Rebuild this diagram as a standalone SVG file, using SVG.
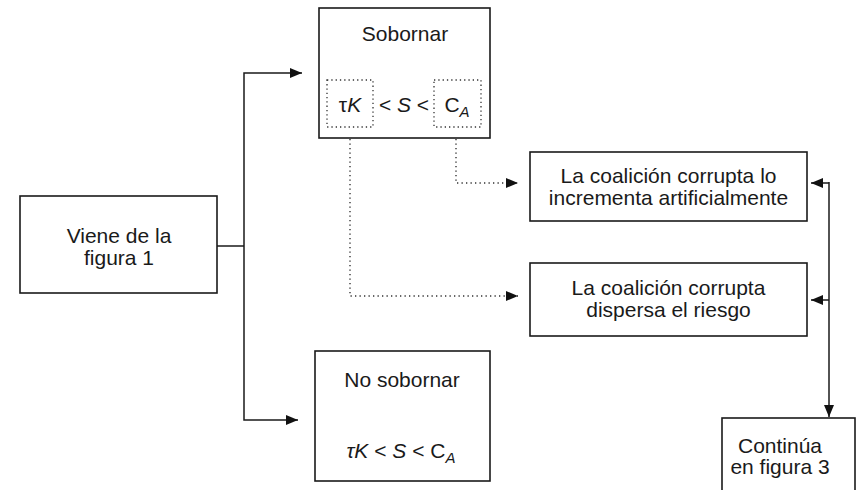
<svg xmlns="http://www.w3.org/2000/svg" width="858" height="490" viewBox="0 0 858 490">
  <style>
    .box { fill: #ffffff; stroke: #1a1a1a; stroke-width: 1.6; }
    .dotbox { fill: none; stroke: #333333; stroke-width: 1.3; stroke-dasharray: 1.3 3; }
    .lbl { font-family: "Liberation Sans", Arial, sans-serif; font-size: 21px; fill: #1a1a1a; text-anchor: middle; }
    .it { font-style: italic; }
    .sub { font-style: italic; font-size: 15px; }
    .solid { fill: none; stroke: #1a1a1a; stroke-width: 1.5; }
    .dotted { fill: none; stroke: #333333; stroke-width: 1.4; stroke-dasharray: 1.3 3.2; }
  </style>
  <defs>
    <marker id="arrow" viewBox="0 0 12 10" refX="12" refY="5" markerWidth="12" markerHeight="10" markerUnits="userSpaceOnUse" orient="auto">
      <path d="M0,0 L12,5 L0,10 z" fill="#111111"/>
    </marker>
  </defs>

  <rect width="858" height="490" fill="#ffffff"/>

  <!-- connectors -->
  <g id="connectors">
    <path class="solid" d="M217,246 H244"/>
    <path class="solid" d="M244,246 V73 H302" marker-end="url(#arrow)"/>
    <path class="solid" d="M244,246 V420 H298" marker-end="url(#arrow)"/>
    <path class="dotted" d="M456,139 V183 H518" marker-end="url(#arrow)"/>
    <path class="dotted" d="M350,139 V296 H518" marker-end="url(#arrow)"/>
    <path class="solid" d="M829,182 V417" marker-end="url(#arrow)"/>
    <path class="solid" d="M829,183 H811" marker-end="url(#arrow)"/>
    <path class="solid" d="M829,300 H811" marker-end="url(#arrow)"/>
  </g>

  <!-- source node -->
  <g id="viene">
    <rect class="box" x="20" y="196" width="197" height="97"/>
    <text class="lbl" x="119" y="243">Viene de la</text>
    <text class="lbl" x="119" y="265">figura 1</text>
  </g>

  <!-- bribe branch -->
  <g id="sobornar">
    <rect class="box" x="319" y="8" width="171" height="130"/>
    <text class="lbl" x="405" y="41">Sobornar</text>
    <rect class="dotbox" x="327" y="80" width="46" height="47"/>
    <rect class="dotbox" x="434" y="80" width="47" height="47"/>
    <text class="lbl" x="350" y="112">τ<tspan class="it">K</tspan></text>
    <text class="lbl" x="404" y="112">&lt; <tspan class="it">S</tspan> &lt;</text>
    <text class="lbl" x="457" y="112">C<tspan class="sub" dy="5">A</tspan></text>
  </g>

  <!-- no-bribe branch -->
  <g id="no-sobornar">
    <rect class="box" x="315" y="351" width="175" height="130"/>
    <text class="lbl" x="402" y="387">No sobornar</text>
    <text class="lbl" x="401" y="458"><tspan class="it">τK</tspan> &lt; <tspan class="it">S</tspan> &lt; C<tspan class="sub" dy="5">A</tspan></text>
  </g>

  <!-- outcomes -->
  <g id="incrementa">
    <rect class="box" x="530" y="152" width="277" height="69"/>
    <text class="lbl" x="668.5" y="183">La coalición corrupta lo</text>
    <text class="lbl" x="668.5" y="205">incrementa artificialmente</text>
  </g>

  <g id="dispersa">
    <rect class="box" x="530" y="263" width="277" height="73"/>
    <text class="lbl" x="668.5" y="295">La coalición corrupta</text>
    <text class="lbl" x="668.5" y="317">dispersa el riesgo</text>
  </g>

  <g id="continua">
    <rect class="box" x="722" y="418" width="133" height="80"/>
    <text class="lbl" x="780" y="453">Continúa</text>
    <text class="lbl" x="780" y="474">en figura 3</text>
  </g>
</svg>
